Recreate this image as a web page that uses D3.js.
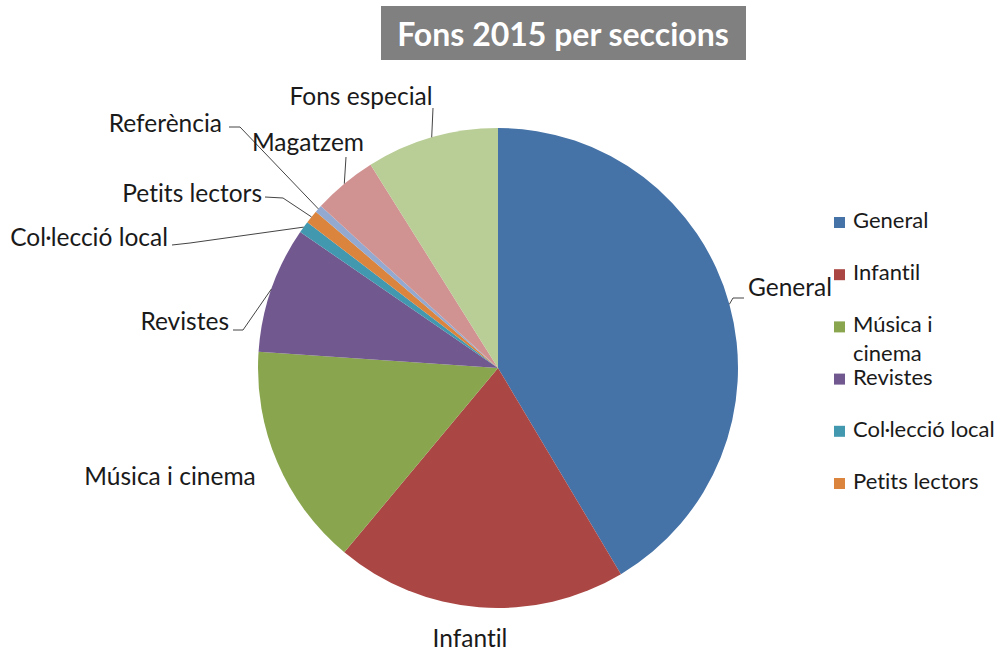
<html>
<head>
<meta charset="utf-8">
<script src="https://d3js.org/d3.v7.min.js"></script>
<style>
  body { margin: 0; background: #fff; }
  text { font-family: Lato, "Liberation Sans", sans-serif; fill: #1a1a1a; font-variant-ligatures: none; }
  .leader { stroke: #444; stroke-width: 1px; fill: none; }
</style>
</head>
<body>
<svg id="chart" width="1000" height="651"></svg>
<script>
// data (shares of the collection, %)
const sections = ["General", "Infantil", "Música i cinema", "Revistes", "Col·lecció local",
                  "Petits lectors", "Referència", "Magatzem", "Fons especial"];
const shares = [41.4, 19.6, 15.0, 8.5, 0.8, 0.9, 0.5, 4.3, 8.9];
const colors = ["#4572A7", "#AA4643", "#89A54E", "#71588F", "#4198AF",
                "#DB843D", "#93A9CF", "#D19392", "#B9CD96"];
const legendShown = 6;   // the legend only fits the first six entries
const title = "Fons 2015 per seccions";

const svg = d3.select("#chart");
const cx = 498, cy = 368, radius = 240;

const color = d3.scaleOrdinal().domain(sections).range(colors);

const rows = sections.map((s, i) => ({ name: s, value: shares[i] }));
const pie = d3.pie().sort(null).value(d => d.value);
const arcs = pie(rows);
const arc = d3.arc().innerRadius(0).outerRadius(radius);

// title box
const titleG = svg.append("g");
titleG.append("rect")
  .attr("x", 381).attr("y", 6).attr("width", 365).attr("height", 54)
  .attr("fill", "#808080");
titleG.append("text")
  .attr("x", 563).attr("y", 46)
  .attr("text-anchor", "middle")
  .style("font-size", "32px").style("font-weight", "bold").style("fill", "#fff")
  .text(title);

const pieG = svg.append("g").attr("transform", `translate(${cx},${cy})`);
pieG.selectAll("path.slice").data(arcs)
  .join("path")
  .attr("class", "slice")
  .attr("d", arc)
  .attr("fill", d => color(d.data.name));

// where each data label sits, and the bend of its leader line
const labelLayout = {
  "General":          { x: 748, y: 296, anchor: "start", bend: [[744, 298], [733, 298]] },
  "Infantil":         { x: 470, y: 647, anchor: "middle", bend: null },
  "Música i cinema":  { x: 170, y: 485, anchor: "middle", bend: null },
  "Revistes":         { x: 229, y: 330, anchor: "end", bend: [[233, 330], [243, 330]] },
  "Col·lecció local": { x: 168, y: 246, anchor: "end", bend: [[172, 245], [190, 243]] },
  "Petits lectors":   { x: 262, y: 202, anchor: "end", bend: [[265, 197], [283, 198]] },
  "Referència":       { x: 222, y: 132, anchor: "end", bend: [[229, 127], [240, 127]] },
  "Magatzem":         { x: 308, y: 151, anchor: "middle", bend: [[346, 157]] },
  "Fons especial":    { x: 361, y: 105, anchor: "middle", bend: [[433, 108]] }
};

const edgePoint = d => {
  const a = (d.startAngle + d.endAngle) / 2;
  return [cx + radius * Math.sin(a), cy - radius * Math.cos(a)];
};

arcs.forEach(d => {
  const lay = labelLayout[d.data.name];
  if (lay.bend) {
    const pts = lay.bend.concat([edgePoint(d)]);
    svg.append("path").attr("class", "leader")
      .attr("d", d3.line()(pts));
  }
  svg.append("text")
    .attr("x", lay.x).attr("y", lay.y)
    .attr("text-anchor", lay.anchor)
    .style("font-size", "24.5px")
    .text(d.data.name);
});

// legend
const legend = svg.append("g").attr("transform", "translate(834,0)");
const legendY = d3.scaleLinear().domain([0, legendShown - 1]).range([217, 478]);
const maxW = 150;
sections.slice(0, legendShown).forEach((s, i) => {
  const y = legendY(i);
  legend.append("rect")
    .attr("x", 0).attr("y", y).attr("width", 11).attr("height", 11)
    .attr("fill", color(s));
  const t = legend.append("text")
    .attr("x", 19).attr("y", y + 11)
    .style("font-size", "22px");
  // wrap words that overflow the legend width
  const words = s.split(" ");
  let line = [], tspan = t.append("tspan").attr("x", 19).attr("dy", 0);
  words.forEach(w => {
    line.push(w);
    tspan.text(line.join(" "));
    if (tspan.node().getComputedTextLength() > maxW && line.length > 1) {
      line.pop();
      tspan.text(line.join(" "));
      line = [w];
      tspan = t.append("tspan").attr("x", 19).attr("dy", 29).text(w);
    }
  });
});
</script>
</body>
</html>
